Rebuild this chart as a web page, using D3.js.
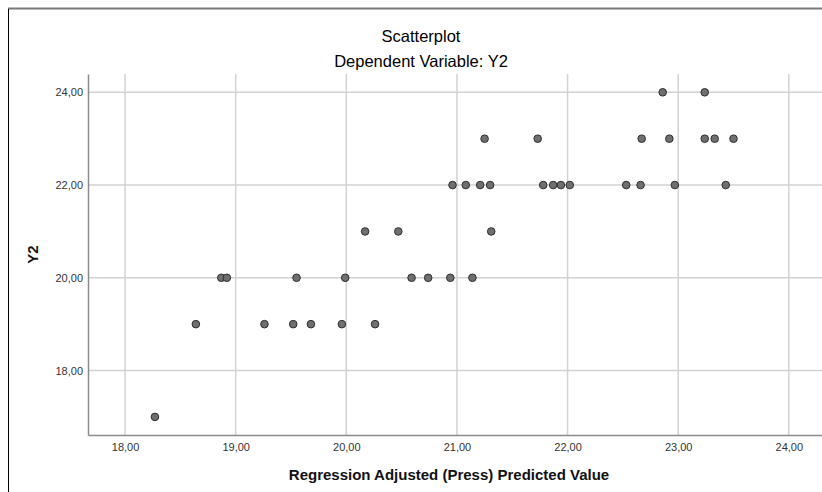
<!DOCTYPE html>
<html>
<head>
<meta charset="utf-8">
<script src="https://cdn.jsdelivr.net/npm/d3@7"></script>
<style>
  body { margin: 0; background: #fff; }
  svg { display: block; font-family: Arial, "Liberation Sans", sans-serif; }
</style>
</head>
<body>
<div class="container"></div>
<script>
const predicted = [18.27, 18.64, 18.87, 18.92, 19.26, 19.52, 19.55, 19.68, 19.96, 19.99,
  20.17, 20.26, 20.47, 20.59, 20.74, 20.94, 20.96, 21.08, 21.14, 21.21,
  21.25, 21.30, 21.31, 21.73, 21.78, 21.87, 21.94, 22.02, 22.53, 22.66,
  22.67, 22.86, 22.92, 22.97, 23.24, 23.24, 23.33, 23.43, 23.50]
const observed = [17, 19, 20, 20, 19, 19, 20, 19, 19, 20,
  21, 19, 21, 20, 20, 20, 22, 22, 20, 22,
  23, 22, 21, 23, 22, 22, 22, 22, 22, 22,
  23, 24, 23, 22, 24, 23, 23, 22, 23]
const xTicks = [18, 19, 20, 21, 22, 23, 24]
const yTicks = [18, 20, 22, 24]

const TITLE = 'Scatterplot'
const SUBTITLE = 'Dependent Variable: Y2'
const X_TITLE = 'Regression Adjusted (Press) Predicted Value'
const Y_TITLE = 'Y2'

const W = 822, H = 492
const PLOT = { LEFT: 88, RIGHT: 822, TOP: 74, BOTTOM: 435 }

const data = predicted.map((x, i) => ({ x, y: observed[i] }))
const comma = d => d3.format('.2f')(d).replace('.', ',')

const svg = d3.select('.container').append('svg')
  .attr('width', W)
  .attr('height', H)

// frame
svg.append('line')
  .attr('x1', 8).attr('x2', W).attr('y1', 8.5).attr('y2', 8.5)
  .attr('stroke', '#7a7a7a').attr('stroke-width', 2)
svg.append('line')
  .attr('x1', 8.5).attr('x2', 8.5).attr('y1', 9).attr('y2', H)
  .attr('stroke', '#000').attr('stroke-width', 1)

const x = d3.scaleLinear().domain([17.665, 24.3]).range([PLOT.LEFT, PLOT.RIGHT])
const y = d3.scaleLinear().domain([16.61, 24.395]).range([PLOT.BOTTOM, PLOT.TOP])

// grid
const grid = svg.append('g').attr('class', 'grid')
grid.selectAll('.gx').data(xTicks).enter().append('line')
  .attr('x1', d => x(d)).attr('x2', d => x(d))
  .attr('y1', PLOT.TOP).attr('y2', PLOT.BOTTOM)
  .attr('stroke', '#d2d2d2').attr('stroke-width', 1.5)
grid.selectAll('.gy').data(yTicks).enter().append('line')
  .attr('x1', PLOT.LEFT).attr('x2', PLOT.RIGHT)
  .attr('y1', d => y(d)).attr('y2', d => y(d))
  .attr('stroke', '#d2d2d2').attr('stroke-width', 1.5)

// axes
const xAxis = d3.axisBottom(x).tickValues(xTicks).tickFormat(comma).tickSize(0).tickPadding(8)
const yAxis = d3.axisLeft(y).tickValues(yTicks).tickFormat(comma).tickSize(0).tickPadding(5)

const gx = svg.append('g')
    .attr('transform', `translate(0, ${PLOT.BOTTOM})`)
  .call(xAxis)
const gy = svg.append('g')
    .attr('transform', `translate(${PLOT.LEFT}, 0)`)
  .call(yAxis)

for (const g of [gx, gy]) {
  g.select('.domain').attr('stroke', '#8c8c8c').attr('stroke-width', 1.5)
  g.selectAll('text')
    .attr('font-size', '11px')
    .attr('fill', '#333')
    .attr('font-family', 'Arial, "Liberation Sans", sans-serif')
}

// points
svg.append('g')
  .selectAll('circle')
  .data(data)
  .enter()
    .append('circle')
    .attr('cx', d => x(d.x))
    .attr('cy', d => y(d.y))
    .attr('r', 3.8)
    .attr('fill', '#6f6f6f')
    .attr('stroke', '#2e2e2e')
    .attr('stroke-width', 1)

// titles
svg.append('text')
  .text(TITLE)
  .attr('x', 421).attr('y', 42)
  .attr('text-anchor', 'middle')
  .attr('font-size', '16.5px')
  .attr('fill', '#000')
svg.append('text')
  .text(SUBTITLE)
  .attr('x', 421).attr('y', 67)
  .attr('text-anchor', 'middle')
  .attr('font-size', '16.5px')
  .attr('fill', '#000')

svg.append('text')
  .text(X_TITLE)
  .attr('x', 449).attr('y', 480)
  .attr('text-anchor', 'middle')
  .attr('font-size', '15px')
  .attr('font-weight', 'bold')
  .attr('fill', '#111')

svg.append('text')
  .text(Y_TITLE)
  .attr('transform', `translate(38, ${(PLOT.TOP + PLOT.BOTTOM) / 2}) rotate(-90)`)
  .attr('text-anchor', 'middle')
  .attr('font-size', '15px')
  .attr('font-weight', 'bold')
  .attr('fill', '#111')
</script>
</body>
</html>
